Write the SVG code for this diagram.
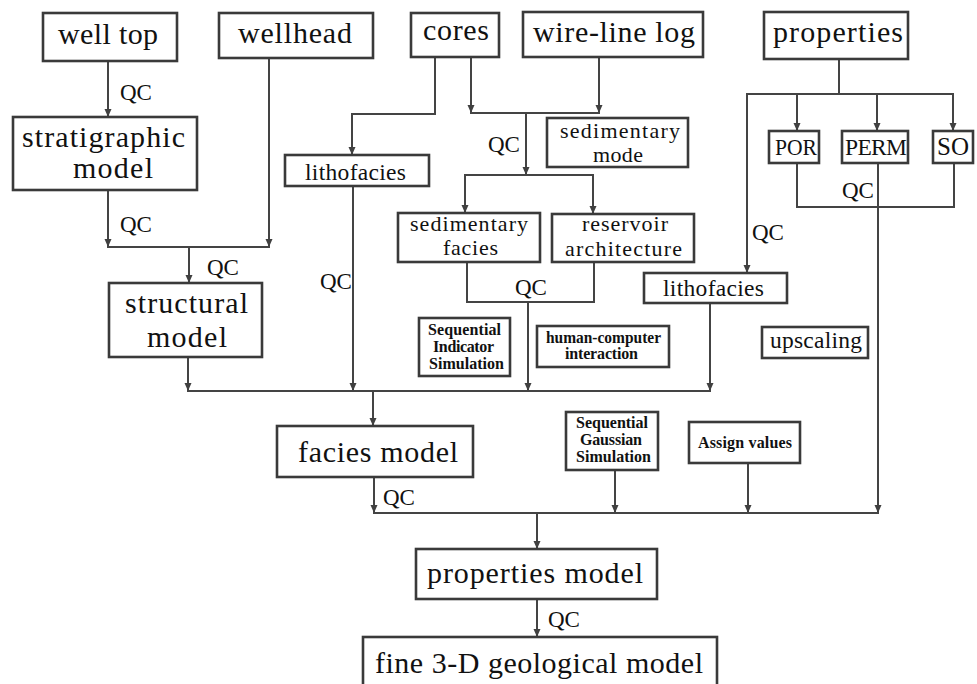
<svg xmlns="http://www.w3.org/2000/svg" width="977" height="684" viewBox="0 0 977 684">
<defs>
<marker id="ah" markerUnits="userSpaceOnUse" markerWidth="9" markerHeight="9" refX="8" refY="4" orient="auto">
<path d="M0,0.5 L8,4 L0,7.5 z" fill="#404040"/>
</marker>
<style>
rect{fill:#fff;stroke:#3a3a3a;stroke-width:2.6}
.c path,.c line,.c polyline{fill:none;stroke:#444;stroke-width:2}
.a{marker-end:url(#ah)}
text{font-family:"Liberation Serif","Times New Roman",serif;fill:#111}
.L{font-size:30px}
.M{font-size:23.5px}
.S{font-size:22px}
.B{font-size:16px;font-weight:bold}
.Q{font-size:23px}
</style>
</defs>
<rect x="0" y="0" width="977" height="684" style="fill:#fff;stroke:none"/>

<g class="c" id="connectors">
<line class="a" x1="108" y1="62" x2="108" y2="117"/>
<line class="a" x1="108" y1="190" x2="108" y2="247"/>
<line class="a" x1="269" y1="59" x2="269" y2="247"/>
<line x1="107" y1="247" x2="270" y2="247"/>
<line class="a" x1="189" y1="247" x2="189" y2="283"/>
<line class="a" x1="188" y1="357" x2="188" y2="391"/>
<line x1="187" y1="391" x2="711" y2="391"/>
<line class="a" x1="353" y1="186" x2="353" y2="391"/>
<line class="a" x1="528" y1="302" x2="528" y2="391"/>
<line class="a" x1="710" y1="303" x2="710" y2="391"/>
<line class="a" x1="373" y1="391" x2="373" y2="426"/>
<polyline class="a" points="435,57 435,114 352,114 352,155"/>
<line class="a" x1="471" y1="57" x2="471" y2="113"/>
<line class="a" x1="599" y1="57" x2="599" y2="113"/>
<line x1="470" y1="113" x2="600" y2="113"/>
<line class="a" x1="526" y1="113" x2="526" y2="175"/>
<line x1="464" y1="175" x2="594" y2="175"/>
<line class="a" x1="465" y1="175" x2="465" y2="213"/>
<line class="a" x1="593" y1="175" x2="593" y2="214"/>
<polyline points="467,262 467,302 594,302 594,262"/>
<line x1="839" y1="59" x2="839" y2="94"/>
<line x1="746" y1="94" x2="954" y2="94"/>
<line class="a" x1="797" y1="94" x2="797" y2="131"/>
<line class="a" x1="877" y1="94" x2="877" y2="131"/>
<line class="a" x1="953" y1="94" x2="953" y2="131"/>
<line class="a" x1="747" y1="94" x2="747" y2="273"/>
<polyline points="797,163 797,207 954,207 954,163"/>
<line class="a" x1="878" y1="163" x2="878" y2="513"/>
<line class="a" x1="615" y1="470" x2="615" y2="513"/>
<line class="a" x1="748" y1="463" x2="748" y2="513"/>
<line class="a" x1="374" y1="477" x2="374" y2="513"/>
<line x1="373" y1="513" x2="879" y2="513"/>
<line class="a" x1="537" y1="513" x2="537" y2="549"/>
<line class="a" x1="537" y1="599" x2="537" y2="637"/>
</g>

<g id="qc-labels">
<text class="Q" x="120" y="100">QC</text>
<text class="Q" x="120" y="232">QC</text>
<text class="Q" x="207" y="275">QC</text>
<text class="Q" x="320" y="289">QC</text>
<text class="Q" x="488" y="152">QC</text>
<text class="Q" x="515" y="295">QC</text>
<text class="Q" x="752" y="240">QC</text>
<text class="Q" x="842" y="198">QC</text>
<text class="Q" x="383" y="505">QC</text>
<text class="Q" x="548" y="627">QC</text>
</g>

<g id="well-top"><rect x="43" y="13" width="134" height="48"/><text class="L" x="58" y="44" textLength="100" lengthAdjust="spacing">well top</text></g>
<g id="wellhead"><rect x="219" y="13" width="154" height="45"/><text class="L" x="238" y="43" textLength="114" lengthAdjust="spacing">wellhead</text></g>
<g id="cores"><rect x="411" y="13" width="88" height="44"/><text class="L" x="423" y="40" textLength="66" lengthAdjust="spacing">cores</text></g>
<g id="wire-line-log"><rect x="523" y="12" width="180" height="45"/><text class="L" x="533" y="42" textLength="162" lengthAdjust="spacing">wire-line log</text></g>
<g id="properties"><rect x="764" y="12" width="144" height="47"/><text class="L" x="773" y="42" textLength="130" lengthAdjust="spacing">properties</text></g>

<g id="stratigraphic-model"><rect x="13" y="117" width="184" height="73"/><text class="L" x="22" y="147" textLength="163" lengthAdjust="spacing">stratigraphic</text><text class="L" x="73" y="178" textLength="80" lengthAdjust="spacing">model</text></g>
<g id="structural-model"><rect x="109" y="283" width="153" height="74"/><text class="L" x="125" y="313" textLength="123" lengthAdjust="spacing">structural</text><text class="L" x="147" y="347" textLength="80" lengthAdjust="spacing">model</text></g>

<g id="lithofacies-1"><rect x="285" y="155" width="144" height="31"/><text class="M" x="305" y="180" textLength="101" lengthAdjust="spacing">lithofacies</text></g>
<g id="sedimentary-mode"><rect x="547" y="118" width="141" height="49"/><text class="S" x="560" y="138" textLength="120" lengthAdjust="spacing">sedimentary</text><text class="S" x="593" y="162" textLength="50" lengthAdjust="spacing">mode</text></g>
<g id="sedimentary-facies"><rect x="398" y="213" width="142" height="49"/><text class="S" x="410" y="231" textLength="118" lengthAdjust="spacing">sedimentary</text><text class="S" x="443" y="255" textLength="55" lengthAdjust="spacing">facies</text></g>
<g id="reservoir-architecture"><rect x="552" y="214" width="142" height="48"/><text class="S" x="582" y="231" textLength="86" lengthAdjust="spacing">reservoir</text><text class="S" x="565" y="256" textLength="117" lengthAdjust="spacing">architecture</text></g>

<g id="POR"><rect x="769" y="131" width="50" height="32"/><text class="M" x="775" y="155" textLength="42" lengthAdjust="spacingAndGlyphs">POR</text></g>
<g id="PERM"><rect x="842" y="131" width="66" height="32"/><text class="M" x="845" y="155" textLength="62" lengthAdjust="spacing">PERM</text></g>
<g id="SO"><rect x="933" y="131" width="40" height="32"/><text class="M" x="937" y="155" style="font-size:25px">SO</text></g>

<g id="lithofacies-2"><rect x="644" y="273" width="143" height="30"/><text class="M" x="663" y="296" textLength="101" lengthAdjust="spacing">lithofacies</text></g>
<g id="upscaling"><rect x="762" y="327" width="106" height="31"/><text class="M" x="770" y="348" textLength="92" lengthAdjust="spacing">upscaling</text></g>

<g id="sequential-indicator-simulation"><rect x="419" y="318" width="91" height="58"/><text class="B" x="428" y="335" textLength="73" lengthAdjust="spacing">Sequential</text><text class="B" x="433" y="352" textLength="61" lengthAdjust="spacing">Indicator</text><text class="B" x="429" y="369" textLength="75" lengthAdjust="spacing">Simulation</text></g>
<g id="human-computer-interaction"><rect x="537" y="326" width="132" height="41"/><text class="B" x="546" y="343" textLength="115" lengthAdjust="spacingAndGlyphs">human-computer</text><text class="B" x="565" y="359" textLength="73" lengthAdjust="spacing">interaction</text></g>

<g id="facies-model"><rect x="277" y="426" width="196" height="51"/><text class="L" x="298" y="462" textLength="160" lengthAdjust="spacing">facies model</text></g>
<g id="sequential-gaussian-simulation"><rect x="566" y="412" width="92" height="58"/><text class="B" x="576" y="428" textLength="72" lengthAdjust="spacing">Sequential</text><text class="B" x="580" y="445" textLength="62" lengthAdjust="spacing">Gaussian</text><text class="B" x="576" y="462" textLength="75" lengthAdjust="spacing">Simulation</text></g>
<g id="assign-values"><rect x="689" y="422" width="111" height="41"/><text class="B" x="698" y="448" textLength="94" lengthAdjust="spacing">Assign values</text></g>

<g id="properties-model"><rect x="416" y="549" width="241" height="50"/><text class="L" x="427" y="583" textLength="216" lengthAdjust="spacing">properties model</text></g>
<g id="fine-3d-geological-model"><rect x="363" y="637" width="354" height="60"/><text class="L" x="375" y="673" textLength="328" lengthAdjust="spacing">fine 3-D geological model</text></g>
</svg>
